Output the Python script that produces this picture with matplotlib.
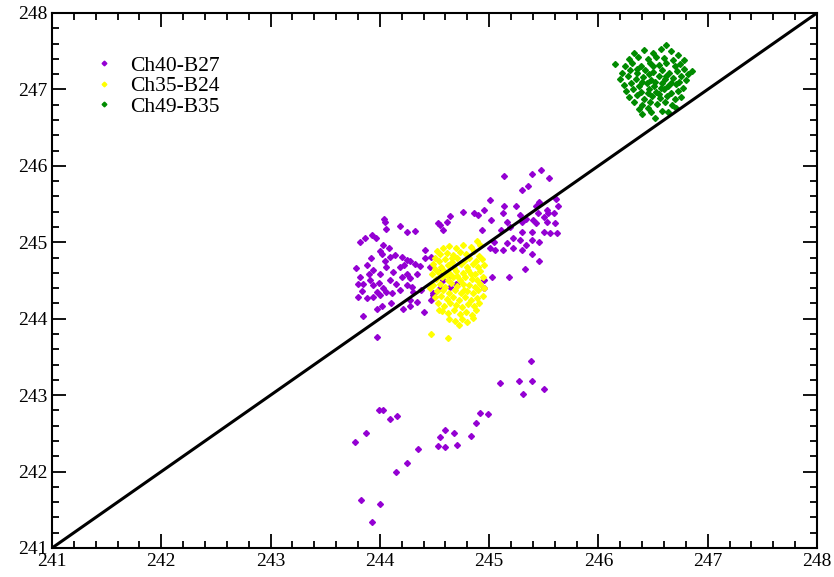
import numpy as np
import matplotlib.pyplot as plt
from matplotlib.ticker import MultipleLocator

# Ch40-B27 (purple): upper cloud + lower streak
ch40_x = [
    245.14, 245.39, 245.47, 245.55, 245.30, 245.36, 245.01, 245.46, 245.61, 245.63,
    245.59, 245.54, 245.50, 245.45, 245.40, 245.34, 245.30, 245.43, 245.53, 245.60,
    245.56, 245.62, 245.50, 245.39, 245.30, 245.22, 245.28, 245.39, 245.34, 245.46,
    245.30, 245.39, 245.22, 245.16, 245.13, 245.05, 245.01, 245.46, 245.33, 245.18,
    245.03, 244.95, 244.95, 245.04, 245.11, 245.16, 245.13, 245.02, 244.93, 244.95,
    244.86, 244.76, 244.64, 244.61, 244.55, 244.53, 244.58, 244.90, 245.25, 245.14,
    245.19, 245.28, 245.43, 245.53,
    244.04, 244.05, 244.18, 244.06, 244.25, 244.32, 243.82, 243.86, 243.93, 243.96,
    244.03, 244.08, 244.02, 244.09, 244.14, 244.20, 244.25, 244.28, 244.32, 244.37,
    244.41, 244.41, 244.47, 244.46, 243.78, 243.88, 243.94, 244.00, 244.06, 244.12,
    244.18, 244.25, 244.28, 244.34, 243.82, 243.85, 243.91, 243.94, 243.97, 244.03,
    244.09, 244.11, 244.18, 244.25, 244.29, 243.80, 243.88, 243.94, 244.00, 244.06,
    244.28, 244.34, 244.38, 244.21, 244.28, 243.97, 244.02, 243.85, 244.40, 244.47,
    244.49, 243.97, 244.55, 244.63, 244.58, 244.64, 244.70, 244.49, 244.55,
    243.90, 243.99, 244.15, 244.05, 243.84, 244.20, 243.92, 244.30, 244.10, 243.80,
    244.00, 244.22,
    243.77, 243.87, 243.99, 244.03, 244.09, 244.16, 244.35, 244.25, 244.15, 243.83,
    244.00, 243.93, 244.55, 244.60, 244.68, 244.53, 244.60, 244.71, 244.83, 244.88,
    244.92, 244.99, 245.10, 245.27, 245.38, 245.39, 245.31, 245.50,
]
ch40_y = [
    245.87, 245.89, 245.94, 245.84, 245.69, 245.74, 245.55, 245.53, 245.56, 245.47,
    245.38, 245.38, 245.33, 245.38, 245.29, 245.31, 245.27, 245.25, 245.27, 245.25,
    245.12, 245.12, 245.14, 245.14, 245.14, 245.06, 245.03, 245.03, 244.96, 245.01,
    244.90, 244.85, 244.92, 244.99, 244.90, 244.90, 244.92, 244.76, 244.65, 244.54,
    244.54, 244.40, 244.51, 245.01, 245.16, 245.27, 245.38, 245.29, 245.16, 245.42,
    245.38, 245.39, 245.34, 245.27, 245.23, 245.25, 245.16, 245.36, 245.47, 245.47,
    245.20, 245.36, 245.47, 245.42,
    245.30, 245.27, 245.21, 245.17, 245.13, 245.15, 245.01, 245.06, 245.09, 245.06,
    244.96, 244.92, 244.85, 244.81, 244.83, 244.81, 244.77, 244.75, 244.72, 244.69,
    244.90, 244.79, 244.81, 244.68, 244.66, 244.70, 244.64, 244.59, 244.68, 244.61,
    244.68, 244.59, 244.53, 244.59, 244.55, 244.46, 244.51, 244.44, 244.35, 244.40,
    244.51, 244.33, 244.37, 244.44, 244.42, 244.29, 244.27, 244.29, 244.31, 244.35,
    244.24, 244.22, 244.37, 244.13, 244.16, 244.13, 244.16, 244.03, 244.09, 244.24,
    244.31, 243.76, 244.61, 244.57, 244.51, 244.42, 244.46, 244.33, 244.40,
    244.58, 244.47, 244.45, 244.75, 244.36, 244.55, 244.80, 244.35, 244.20, 244.45,
    244.88, 244.70,
    242.39, 242.51, 242.80, 242.80, 242.69, 242.73, 242.29, 242.11, 241.99, 241.63,
    241.57, 241.34, 242.45, 242.55, 242.51, 242.34, 242.32, 242.35, 242.47, 242.63,
    242.77, 242.75, 243.16, 243.19, 243.44, 243.19, 243.01, 243.08,
]

# Ch35-B24 (yellow)
ch35_x = [
    244.52, 244.58, 244.63, 244.70, 244.76, 244.83, 244.89, 244.92,
    244.50, 244.55, 244.61, 244.67, 244.73, 244.79, 244.86, 244.91,
    244.49, 244.54, 244.60, 244.66, 244.71, 244.77, 244.82, 244.88, 244.93,
    244.50, 244.56, 244.62, 244.68, 244.74, 244.80, 244.85, 244.90, 244.95,
    244.48, 244.53, 244.59, 244.64, 244.70, 244.76, 244.81, 244.87, 244.92,
    244.51, 244.57, 244.62, 244.67, 244.73, 244.78, 244.84, 244.89, 244.94,
    244.49, 244.55, 244.60, 244.65, 244.71, 244.76, 244.82, 244.87, 244.92,
    244.52, 244.58, 244.63, 244.69, 244.74, 244.80, 244.85, 244.90,
    244.50, 244.56, 244.61, 244.67, 244.72, 244.78, 244.83, 244.89, 244.94,
    244.53, 244.59, 244.64, 244.70, 244.75, 244.81, 244.86, 244.91,
    244.57, 244.62, 244.68, 244.73, 244.79, 244.84, 244.88,
    244.63, 244.69, 244.75, 244.80, 244.85, 244.72,
    244.47, 244.62, 244.95, 244.46, 244.54, 244.66, 244.71, 244.77, 244.61, 244.83,
]
ch35_y = [
    244.88, 244.92, 244.95, 244.93, 244.96, 244.94, 245.02, 244.97,
    244.80, 244.84, 244.86, 244.83, 244.87, 244.85, 244.88, 244.82,
    244.72, 244.76, 244.78, 244.74, 244.79, 244.76, 244.80, 244.75, 244.78,
    244.65, 244.68, 244.70, 244.66, 244.71, 244.67, 244.72, 244.68, 244.70,
    244.58, 244.61, 244.63, 244.59, 244.62, 244.60, 244.64, 244.59, 244.62,
    244.52, 244.55, 244.50, 244.54, 244.51, 244.55, 244.52, 244.50, 244.54,
    244.44, 244.46, 244.42, 244.47, 244.43, 244.46, 244.44, 244.41, 244.45,
    244.36, 244.38, 244.34, 244.37, 244.33, 244.36, 244.33, 244.37,
    244.28, 244.30, 244.26, 244.29, 244.25, 244.28, 244.24, 244.27, 244.30,
    244.20, 244.17, 244.21, 244.18, 244.15, 244.19, 244.16, 244.21,
    244.10, 244.07, 244.11, 244.06, 244.09, 244.05, 244.12,
    244.00, 243.97, 243.99, 243.96, 244.01, 243.92,
    243.80, 243.75, 244.40, 244.40, 244.12, 244.79, 244.56, 244.38, 244.57, 244.58,
]

# Ch49-B35 (green)
ch49_x = [
    246.15, 246.62, 246.86, 246.52, 246.40, 246.71,
    246.33, 246.42, 246.50, 246.57, 246.66, 246.73, 246.78,
    246.28, 246.36, 246.45, 246.53, 246.60, 246.68, 246.75,
    246.24, 246.31, 246.39, 246.47, 246.55, 246.62, 246.70, 246.78, 246.82,
    246.22, 246.29, 246.35, 246.43, 246.50, 246.58, 246.65, 246.72, 246.76,
    246.20, 246.27, 246.34, 246.41, 246.48, 246.55, 246.61, 246.68, 246.74, 246.80,
    246.23, 246.30, 246.37, 246.44, 246.51, 246.58, 246.64, 246.71, 246.77,
    246.25, 246.32, 246.39, 246.46, 246.53, 246.60, 246.66, 246.73,
    246.28, 246.35, 246.42, 246.49, 246.56, 246.63, 246.70, 246.76,
    246.33, 246.40, 246.47, 246.54, 246.61, 246.67,
    246.37, 246.45, 246.58, 246.64, 246.48,
    246.46, 246.52, 246.57, 246.40, 246.62, 246.45, 246.55, 246.50, 246.35, 246.66,
]
ch49_y = [
    247.33, 247.58, 247.24, 246.63, 246.68, 246.76,
    247.48, 247.52, 247.47, 247.53, 247.50, 247.45, 247.38,
    247.40, 247.42, 247.40, 247.43, 247.41, 247.39, 247.33,
    247.30, 247.34, 247.31, 247.35, 247.32, 247.34, 247.30, 247.27, 247.20,
    247.22, 247.25, 247.21, 247.26, 247.23, 247.25, 247.21, 247.24, 247.18,
    247.14, 247.17, 247.13, 247.16, 247.12, 247.17, 247.13, 247.15, 247.10, 247.12,
    247.06, 247.08, 247.04, 247.09, 247.05, 247.08, 247.04, 247.07, 247.02,
    246.98, 247.00, 246.96, 247.01, 246.97, 247.00, 246.95, 246.98,
    246.90, 246.93, 246.88, 246.92, 246.89, 246.91, 246.87, 246.90,
    246.83, 246.80, 246.84, 246.81, 246.83, 246.79,
    246.74, 246.76, 246.72, 246.70, 246.70,
    247.20, 247.10, 247.02, 247.10, 247.18, 246.95, 246.94, 247.30, 247.27, 247.08,
]

diag = [241, 248]

plt.rcParams['font.family'] = ['Liberation Serif', 'DejaVu Serif']

fig = plt.figure(figsize=(8.34, 5.77), dpi=100)
ax = fig.add_axes([0.0624, 0.0503, 0.9172, 0.9272])

ax.plot(ch40_x, ch40_y, ls='', marker='D', ms=3.0, color='#9400d3', mec='#9400d3', label='Ch40-B27')
ax.plot(ch35_x, ch35_y, ls='', marker='D', ms=3.0, color='#ffff00', mec='#ffff00', label='Ch35-B24')
ax.plot(ch49_x, ch49_y, ls='', marker='D', ms=3.0, color='#008b00', mec='#008b00', label='Ch49-B35')
ax.plot(diag, diag, color='black', lw=2.2)

ax.set_xlim(241, 248)
ax.set_ylim(241, 248)
ax.xaxis.set_major_locator(MultipleLocator(1))
ax.yaxis.set_major_locator(MultipleLocator(1))
ax.xaxis.set_minor_locator(MultipleLocator(0.2))
ax.yaxis.set_minor_locator(MultipleLocator(0.2))
ax.tick_params(which='both', direction='in', top=True, right=True, labelsize=14, width=1.3)
ax.tick_params(which='major', length=10)
ax.tick_params(which='minor', length=5)
for s in ax.spines.values():
    s.set_linewidth(1.5)

ax.legend(loc='upper left', bbox_to_anchor=(0.04, 0.94), frameon=False, fontsize=15.5,
          handlelength=1.0, handletextpad=0.7, labelspacing=0.02, borderpad=0,
          markerscale=0.8)

fig.savefig('out.png', dpi=100)
